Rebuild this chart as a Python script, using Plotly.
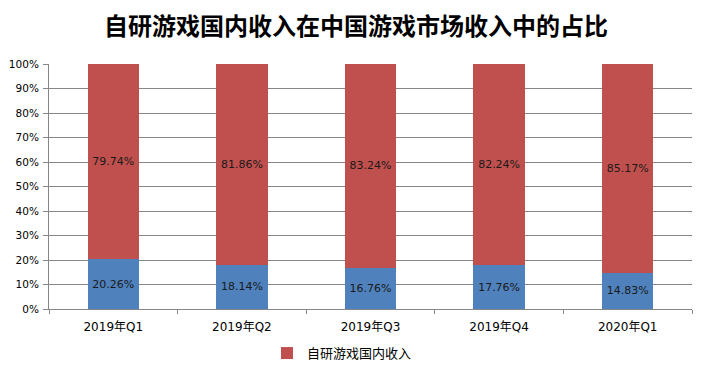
import plotly.graph_objects as go

categories = ["2019年Q1", "2019年Q2", "2019年Q3", "2019年Q4", "2020年Q1"]
domestic_share = [20.26, 18.14, 16.76, 17.76, 14.83]
other_share = [79.74, 81.86, 83.24, 82.24, 85.17]
y_ticks = [0, 10, 20, 30, 40, 50, 60, 70, 80, 90, 100]
y_tick_labels = [f"{v}%" for v in y_ticks]

FONT = "Verdana, 'DejaVu Sans', 'Noto Sans CJK SC', sans-serif"
CJK = "'Noto Sans CJK SC', sans-serif"

fig = go.Figure()
fig.add_trace(go.Bar(
    x=categories, y=domestic_share, name="其他",
    marker=dict(color="#4F81BD", line=dict(width=0)),
    text=[f"{v:.2f}%" for v in domestic_share],
    textposition="inside", insidetextanchor="middle", textangle=0,
    textfont=dict(size=11, color="#1a1a1a", family=FONT),
    showlegend=False, width=0.4,
))
fig.add_trace(go.Bar(
    x=categories, y=other_share, name="自研游戏国内收入",
    marker=dict(color="#C0504D", line=dict(width=0)),
    text=[f"{v:.2f}%" for v in other_share],
    textposition="inside", insidetextanchor="middle", textangle=0,
    textfont=dict(size=11, color="#1a1a1a", family=FONT),
    showlegend=True, width=0.4,
))

fig.update_layout(
    barmode="stack",
    width=696, height=365,
    margin=dict(l=41, r=12, t=56, b=64, autoexpand=False),
    paper_bgcolor="white", plot_bgcolor="white",
    font=dict(family=FONT, size=11, color="#000"),
    title=dict(text="<b>自研游戏国内收入在中国游戏市场收入中的占比</b>",
               x=0.5, xanchor="center", y=0.948, yanchor="middle",
               font=dict(family=CJK, size=24, color="#000")),
    legend=dict(orientation="h", x=0.339, xanchor="left", y=-0.18, yanchor="middle",
                font=dict(family=CJK, size=13),
                itemwidth=30, bgcolor="rgba(0,0,0,0)"),
    uniformtext=dict(minsize=11, mode="show"),
)
fig.update_xaxes(
    type="category", showline=True, linecolor="#868686", linewidth=1,
    ticks="outside", tickson="boundaries", ticklen=4, tickcolor="#868686",
    showgrid=False, tickfont=dict(size=12, family=FONT), automargin=False,
    ticklabelstandoff=7,
)
fig.update_yaxes(
    range=[0, 100], tickvals=y_ticks, ticktext=y_tick_labels,
    showline=True, linecolor="#868686", linewidth=1,
    ticks="outside", ticklen=5, tickcolor="#868686",
    showgrid=True, gridcolor="#868686", gridwidth=1,
    tickfont=dict(size=10.5), zeroline=False, automargin=False,
    ticklabelstandoff=2,
)

fig.write_html("out.html")
